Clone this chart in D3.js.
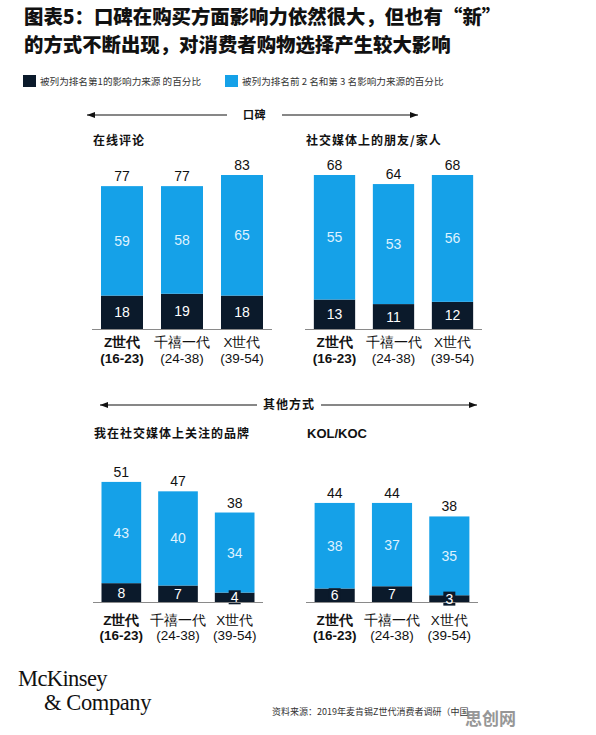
<!DOCTYPE html>
<html>
<head>
<meta charset="utf-8">
<script src="https://cdn.jsdelivr.net/npm/d3@7"></script>
<style>
  body { margin: 0; background: #fff; }
  svg { display: block; }
  .cjk { font-family: "Noto Sans CJK SC", "Noto Sans", sans-serif; }
  .num { font-family: "Liberation Sans", Arial, sans-serif; }
</style>
</head>
<body>
<div id="chart"></div>
<script>
// Data
const generations = ["Z世代", "千禧一代", "X世代"];
const ageRanges = ["(16-23)", "(24-38)", "(39-54)"];
const panelTitles = ["在线评论", "社交媒体上的朋友/家人", "我在社交媒体上关注的品牌", "KOL/KOC"];
const rankFirst = [[18, 19, 18], [13, 11, 12], [8, 7, 4], [6, 7, 3]];
const rankSecondThird = [[59, 58, 65], [55, 53, 56], [43, 40, 34], [38, 37, 35]];
const totals = [[77, 77, 83], [68, 64, 68], [51, 47, 38], [44, 44, 38]];
const legendLabels = ["被列为排名第1的影响力来源 的百分比", "被列为排名前 2 名和第 3 名影响力来源的百分比"];
const sectionLabels = ["口碑", "其他方式"];

const width = 596, height = 735;
const dark = "#0b1a2b", blue = "#15a1e8";

// panel layout: [x0, x1, baseline, scale max, label line offsets]
const panels = [
  {x0: 92, x1: 272, base: 329, max: 83, titleY: 140, l1: 13, l2: 29},
  {x0: 305, x1: 482, base: 329, max: 68, titleY: 140, l1: 13, l2: 29},
  {x0: 93, x1: 263, base: 602, max: 65.4, titleY: 433, l1: 18, l2: 33},
  {x0: 306, x1: 478, base: 602, max: 68.4, titleY: 433, l1: 18, l2: 33}
];
const barHeight = 154;

const svg = d3.select("#chart").append("svg")
  .attr("width", width).attr("height", height);

// Title
svg.append("text").attr("class", "cjk")
  .attr("x", 24).attr("y", 24)
  .attr("font-size", 19.4).attr("font-weight", 900).attr("fill", "#111")
  .text("图表5：口碑在购买方面影响力依然很大，但也有“新”");
svg.append("text").attr("class", "cjk")
  .attr("x", 24).attr("y", 52)
  .attr("font-size", 19.4).attr("font-weight", 900).attr("fill", "#111")
  .text("的方式不断出现，对消费者购物选择产生较大影响");

// Legend
const legend = svg.append("g");
[[23, dark], [225, blue]].forEach(([x, c], i) => {
  legend.append("rect").attr("x", x).attr("y", 75).attr("width", 13).attr("height", 12).attr("fill", c);
  legend.append("text").attr("class", "cjk")
    .attr("x", x + 17).attr("y", 84.5)
    .attr("font-size", 9.6).attr("fill", "#333")
    .text(legendLabels[i]);
});

// Section headers with arrows
function arrowHead(x, y, dir) {
  svg.append("path")
    .attr("d", `M${x},${y} L${x - dir * 8},${y - 3} L${x - dir * 8},${y + 3} Z`)
    .attr("fill", "#111");
}
function section(label, y, left, right, textX, gap, fs, ls) {
  const t = svg.append("text").attr("class", "cjk")
    .attr("x", textX).attr("y", y + 4)
    .attr("font-size", fs).attr("font-weight", 700)
    .attr("letter-spacing", ls).attr("fill", "#111")
    .text(label);
  const w = t.node().getComputedTextLength();
  svg.append("line").attr("x1", left).attr("x2", textX - gap).attr("y1", y).attr("y2", y)
    .attr("stroke", "#111").attr("stroke-width", 1.2);
  svg.append("line").attr("x1", textX + w + gap).attr("x2", right).attr("y1", y).attr("y2", y)
    .attr("stroke", "#111").attr("stroke-width", 1.2);
  arrowHead(left, y, -1);
  arrowHead(right, y, 1);
}
section(sectionLabels[0], 115, 87, 418, 243, 16, 11, 0.5);
section(sectionLabels[1], 405, 100, 477, 263, 6, 12, 1);

// Panels
panels.forEach((p, i) => {
  const g = svg.append("g");
  const x = d3.scaleBand().domain(generations).range([p.x0, p.x1])
    .paddingInner(0.3).paddingOuter(0.15);
  const y = d3.scaleLinear().domain([0, p.max]).range([p.base, p.base - barHeight]);

  // panel title
  const isLatin = /^[A-Z\/]+$/.test(panelTitles[i]);
  g.append("text").attr("class", isLatin ? "num" : "cjk")
    .attr("x", p.x0 + 1).attr("y", p.titleY + 4.5)
    .attr("font-size", isLatin ? 13 : 12).attr("font-weight", 700)
    .attr("letter-spacing", isLatin ? 0 : 1).attr("fill", "#111")
    .text(panelTitles[i]);

  const rows = generations.map((gen, j) => ({
    gen, first: rankFirst[i][j], rest: rankSecondThird[i][j], total: totals[i][j]
  }));

  // dark segment
  g.selectAll(".first").data(rows).join("rect")
    .attr("x", d => x(d.gen)).attr("width", x.bandwidth())
    .attr("y", d => y(d.first)).attr("height", d => y(0) - y(d.first))
    .attr("fill", dark);
  // blue segment
  g.selectAll(".rest").data(rows).join("rect")
    .attr("x", d => x(d.gen)).attr("width", x.bandwidth())
    .attr("y", d => y(d.first + d.rest)).attr("height", d => y(d.first) - y(d.first + d.rest))
    .attr("fill", blue);

  // label boxes for thin dark segments
  rows.filter(d => y(0) - y(d.first) < 14).forEach(d => {
    const cy = (y(0) + y(d.first)) / 2;
    g.append("rect")
      .attr("x", x(d.gen) + x.bandwidth() / 2 - 6).attr("width", 12)
      .attr("y", cy - 7).attr("height", 14).attr("fill", dark);
  });

  // axis baseline
  g.append("line").attr("x1", p.x0).attr("x2", p.x1)
    .attr("y1", p.base + 0.5).attr("y2", p.base + 0.5)
    .attr("stroke", "#8a8a8a").attr("stroke-width", 1.2);

  // labels
  g.selectAll(".lf").data(rows).join("text").attr("class", "num")
    .attr("x", d => x(d.gen) + x.bandwidth() / 2)
    .attr("y", d => (y(0) + y(d.first)) / 2 + 5)
    .attr("text-anchor", "middle").attr("font-size", 14).attr("fill", "#fff")
    .text(d => d.first);
  g.selectAll(".lr").data(rows).join("text").attr("class", "num")
    .attr("x", d => x(d.gen) + x.bandwidth() / 2)
    .attr("y", d => (y(d.first) + y(d.first + d.rest)) / 2 + 5)
    .attr("text-anchor", "middle").attr("font-size", 14).attr("fill", "#dff2ff")
    .text(d => d.rest);
  g.selectAll(".lt").data(rows).join("text").attr("class", "num")
    .attr("x", d => x(d.gen) + x.bandwidth() / 2)
    .attr("y", d => y(d.total) - 5)
    .attr("text-anchor", "middle").attr("font-size", 14).attr("fill", "#111")
    .text(d => d.total);

  // category labels
  generations.forEach((gen, j) => {
    const cx = x(gen) + x.bandwidth() / 2;
    const bold = j === 0;
    g.append("text").attr("class", "num")
      .attr("x", cx).attr("y", p.base + p.l1 + 5)
      .attr("text-anchor", "middle").attr("font-size", 13.5)
      .attr("font-weight", bold ? 700 : 400).attr("fill", "#111")
      .text(gen);
    g.append("text").attr("class", "num")
      .attr("x", cx).attr("y", p.base + p.l2 + 5)
      .attr("text-anchor", "middle").attr("font-size", 13.5)
      .attr("font-weight", bold ? 700 : 400).attr("fill", "#111")
      .text(ageRanges[j]);
  });
});

// Footer
svg.append("text").attr("x", 18).attr("y", 686)
  .attr("font-family", "Liberation Serif, serif").attr("font-size", 22.5)
  .attr("letter-spacing", -0.6).attr("fill", "#111").text("McKinsey");
svg.append("text").attr("x", 44).attr("y", 710)
  .attr("font-family", "Liberation Serif, serif").attr("font-size", 22.5)
  .attr("letter-spacing", -0.4).attr("fill", "#111").text("& Company");
svg.append("text").attr("class", "cjk").attr("x", 272).attr("y", 715)
  .attr("font-size", 9).attr("fill", "#333")
  .text("资料来源：2019年麦肯锡Z世代消费者调研（中国");
svg.append("text").attr("class", "cjk").attr("x", 465).attr("y", 725)
  .attr("font-size", 17).attr("font-weight", 700).attr("fill", "#8c8c8c")
  .attr("opacity", 0.9).text("思创网");
</script>
</body>
</html>
